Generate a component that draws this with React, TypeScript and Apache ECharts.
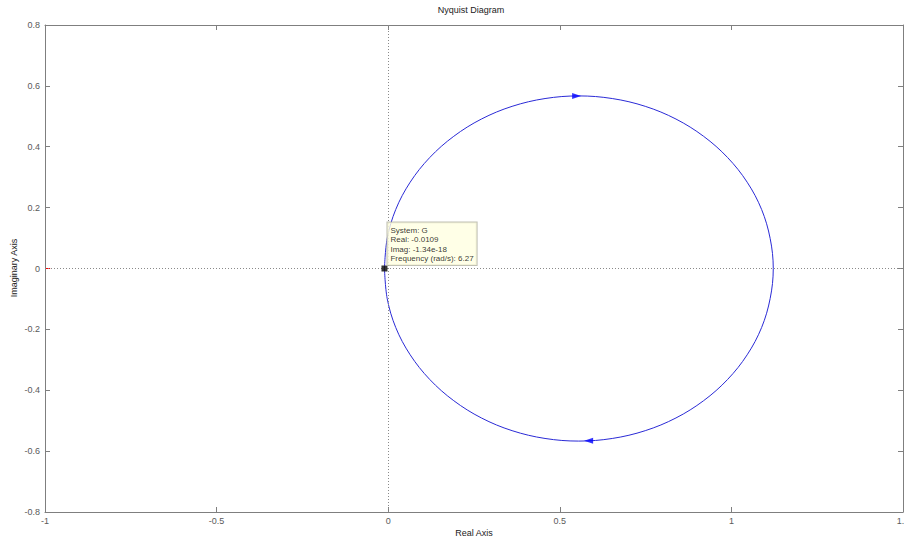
import React, { useEffect, useRef } from "react";
import * as echarts from "echarts";

// Nyquist curve points (real, imag), traversed: top (left -> right), then bottom (right -> left)
const realParts = [
  -0.0109, -0.003, 0.022, 0.064, 0.121, 0.191, 0.2715, 0.361, 0.457, 0.555, 0.653, 0.749, 0.8385, 0.919, 0.989, 1.046, 1.088, 1.113, 1.122,
  1.113, 1.088, 1.046, 0.989, 0.919, 0.8385, 0.749, 0.653, 0.555, 0.457, 0.361, 0.2715, 0.191, 0.121, 0.064, 0.022, -0.003, -0.0109,
];
const imagParts = [
  0, 0.0984, 0.194, 0.2835, 0.3645, 0.4343, 0.491, 0.5328, 0.5584, 0.567, 0.5584, 0.5328, 0.491, 0.4343, 0.3645, 0.2835, 0.194, 0.0984, 0,
  -0.0984, -0.194, -0.2835, -0.3645, -0.4343, -0.491, -0.5328, -0.5584, -0.567, -0.5584, -0.5328, -0.491, -0.4343, -0.3645, -0.2835, -0.194, -0.0984, 0,
];

// Direction arrows: [real, imag, rotation]
const arrowReal = [0.549, 0.584];
const arrowImag = [0.567, -0.566];
const arrowRotate = [-90, 90];

// Data tip
const tipSystem = "G";
const tipReal = -0.0109;
const tipImag = "-1.34e-18";
const tipFreq = 6.27;

// Critical point marker (-1, 0)
const criticalReal = [-1, -0.985];
const criticalImag = [0, 0];

const xTicks = { min: -1, max: 1.5, interval: 0.5 };
const yTicks = { min: -0.8, max: 0.8, interval: 0.2 };

const FONT = "'Liberation Sans', Arial, sans-serif";

export default function App() {
  const ref = useRef<HTMLDivElement>(null);
  useEffect(() => {
    if (!ref.current) return;
    const chart = echarts.init(ref.current, undefined, { renderer: "svg" });
    const curve = realParts.map((r, i) => [r, imagParts[i]]);
    const axisLineStyle = { color: "#7f7f7f", width: 1 };
    const option: any = {
      animation: false,
      backgroundColor: "#ffffff",
      grid: { left: 45, top: 25, width: 858, height: 487, containLabel: false, outerBoundsMode: "none" },
      xAxis: [
        {
          type: "value",
          min: xTicks.min,
          max: xTicks.max,
          interval: xTicks.interval,
          position: "bottom",
          axisLine: { show: true, onZero: false, lineStyle: axisLineStyle },
          axisTick: { show: true, inside: true, length: 5, lineStyle: axisLineStyle },
          axisLabel: { show: true, color: "#5a5a5a", fontSize: 9, fontFamily: FONT, margin: 4, showMinLabel: true, showMaxLabel: true, hideOverlap: false },
          splitLine: { show: false },
        },
        {
          type: "value",
          min: xTicks.min,
          max: xTicks.max,
          interval: xTicks.interval,
          position: "top",
          axisLine: { show: true, onZero: false, lineStyle: axisLineStyle },
          axisTick: { show: true, inside: true, length: 5, lineStyle: axisLineStyle },
          axisLabel: { show: false },
          splitLine: { show: false },
        },
      ],
      yAxis: [
        {
          type: "value",
          min: yTicks.min,
          max: yTicks.max,
          interval: yTicks.interval,
          position: "left",
          axisLine: { show: true, onZero: false, lineStyle: axisLineStyle },
          axisTick: { show: true, inside: true, length: 5, lineStyle: axisLineStyle },
          axisLabel: { show: true, color: "#5a5a5a", fontSize: 9, fontFamily: FONT, margin: 5, showMinLabel: true, showMaxLabel: true },
          splitLine: { show: false },
        },
        {
          type: "value",
          min: yTicks.min,
          max: yTicks.max,
          interval: yTicks.interval,
          position: "right",
          axisLine: { show: true, onZero: false, lineStyle: axisLineStyle },
          axisTick: { show: true, inside: true, length: 5, lineStyle: axisLineStyle },
          axisLabel: { show: false },
          splitLine: { show: false },
        },
      ],
      series: [
        {
          type: "line",
          data: [],
          silent: true,
          markLine: {
            silent: true,
            symbol: "none",
            label: { show: false },
            lineStyle: { color: "#8a8a8a", type: [1, 2], width: 1 },
            data: [{ xAxis: 0 }, { yAxis: 0 }],
          },
        },
        {
          type: "line",
          data: curve,
          smooth: 0.35,
          showSymbol: false,
          symbol: "none",
          lineStyle: { color: "#2a2ad6", width: 1 },
          z: 3,
        },
        {
          type: "scatter",
          data: arrowReal.map((r, i) => ({ value: [r, arrowImag[i]], symbolRotate: arrowRotate[i] })),
          symbol: "triangle",
          symbolSize: [6, 9],
          itemStyle: { color: "#0000ff" },
          z: 4,
        },
        {
          type: "line",
          data: criticalReal.map((r, i) => [r, criticalImag[i]]),
          showSymbol: false,
          symbol: "none",
          lineStyle: { color: "#ff0000", width: 1 },
          z: 4,
        },
        {
          type: "scatter",
          data: [[tipReal, 0]],
          symbol: "rect",
          symbolSize: 6,
          itemStyle: { color: "#000000" },
          z: 5,
          label: {
            show: true,
            position: [6, -43],
            align: "left",
            verticalAlign: "top",
            formatter: () =>
              `System: ${tipSystem}\nReal: ${tipReal}\nImag: ${tipImag}\nFrequency (rad/s): ${tipFreq}`,
            color: "#000",
            fontSize: 8,
            lineHeight: 9.4,
            fontFamily: FONT,
            backgroundColor: "#ffffe1",
            borderColor: "#b0b0a0",
            borderWidth: 1,
            padding: [3, 3, 2, 3],
          },
        },
      ],
      graphic: [
        {
          type: "text",
          x: 471,
          y: 10,
          style: { text: "Nyquist Diagram", fontSize: 9, fontFamily: FONT, fill: "#222", align: "center", verticalAlign: "middle" },
        },
        {
          type: "text",
          x: 474,
          y: 533,
          style: { text: "Real Axis", fontSize: 9, fontFamily: FONT, fill: "#222", align: "center", verticalAlign: "middle" },
        },
        {
          type: "text",
          x: 14,
          y: 268,
          rotation: Math.PI / 2,
          style: { text: "Imaginary Axis", fontSize: 9, fontFamily: FONT, fill: "#222", align: "center", verticalAlign: "middle" },
        },
      ],
    };
    chart.setOption(option);
    return () => chart.dispose();
  }, []);
  return (
    <div
      ref={ref}
      style={{ position: "fixed", left: 0, top: 0, width: 904, height: 541, background: "#fff" }}
    />
  );
}
